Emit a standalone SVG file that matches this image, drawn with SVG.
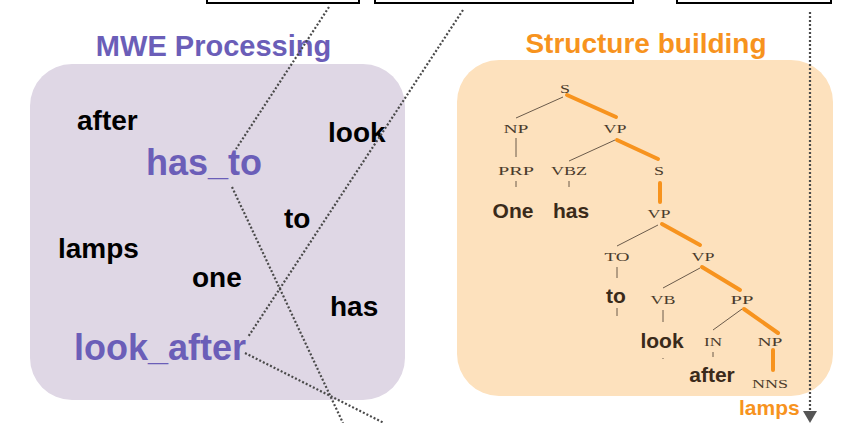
<svg xmlns="http://www.w3.org/2000/svg" width="863" height="423" viewBox="0 0 863 423">
<style>
.title{font-family:"Liberation Sans",Arial,sans-serif;font-weight:bold;font-size:29px}
.word{font-family:"Liberation Sans",Arial,sans-serif;font-weight:bold;font-size:28px;fill:#000}
.mwe{font-family:"Liberation Sans",Arial,sans-serif;font-weight:bold;font-size:36px;fill:#6b5eb8}
.lab{font-family:"Liberation Serif","Times New Roman",serif;font-size:13.5px;fill:#4a3b2c;text-anchor:middle}
.tw{font-family:"Liberation Sans",Arial,sans-serif;font-weight:bold;font-size:21px;fill:#3a2a1a;text-anchor:middle}
.thin{stroke:#6b5b4b;stroke-width:1;fill:none}
.hl{stroke:#f7931e;stroke-width:4;fill:none;stroke-linecap:round}
.dot{stroke:#4a4a4a;stroke-width:2.2;stroke-dasharray:2 2;fill:none}
.topbox{fill:#fff;stroke:#000;stroke-width:2}
</style>
<defs>
<marker id="arr" markerWidth="12" markerHeight="14" refX="0" refY="7" orient="auto" markerUnits="userSpaceOnUse" viewBox="0 0 12 14">
<polygon points="0,0 12,7 0,14" fill="#555"/>
</marker>
</defs>
<g id="top-boxes">
<rect class="topbox" x="207" y="-20" width="152" height="23"/>
<rect class="topbox" x="375" y="-20" width="258" height="23"/>
<rect class="topbox" x="677" y="-20" width="154" height="23"/>
</g>
<g id="mwe-panel">
<rect x="30" y="64" width="375" height="336" rx="42" fill="#dfd7e5"/>
<text class="title" x="213.5" y="56" text-anchor="middle" fill="#6b5eb8">MWE Processing</text>
</g>
<g id="structure-panel">
<rect x="457" y="60" width="376" height="336" rx="42" fill="#fde1bd"/>
<text class="title" x="646" y="53" text-anchor="middle" fill="#f7931e" style="font-size:28px">Structure building</text>
</g>
<g id="w-after"><text class="word" x="77" y="130">after</text></g>
<g id="w-look"><text class="word" x="328" y="142">look</text></g>
<g id="w-to"><text class="word" x="284" y="228">to</text></g>
<g id="w-lamps"><text class="word" x="58" y="258">lamps</text></g>
<g id="w-one"><text class="word" x="192" y="287">one</text></g>
<g id="w-has"><text class="word" x="330" y="316">has</text></g>
<g id="mwe-has_to"><text class="mwe" x="146" y="175">has_to</text></g>
<g id="mwe-look_after"><text class="mwe" x="74" y="360">look_after</text></g>
<g id="tree">
<g id="tree-edges">
<line class="thin" x1="563" y1="97" x2="516" y2="118"/>
<line class="thin" x1="516" y1="138" x2="516" y2="157"/>
<line class="thin" x1="615" y1="140" x2="569" y2="161"/>
<line class="thin" x1="516" y1="181" x2="516" y2="187"/>
<line class="thin" x1="569" y1="181" x2="569" y2="187"/>
<line class="thin" x1="658" y1="225" x2="617" y2="246"/>
<line class="thin" x1="617" y1="267" x2="617" y2="278"/>
<line class="thin" x1="617" y1="308" x2="617" y2="316"/>
<line class="thin" x1="700" y1="268" x2="663" y2="288"/>
<line class="thin" x1="663" y1="310" x2="663" y2="322"/>
<line class="thin" x1="663" y1="358" x2="663" y2="359"/>
<line class="thin" x1="742" y1="309" x2="713" y2="330"/>
<line class="thin" x1="713" y1="352" x2="713" y2="357"/>
<line class="hl" x1="567" y1="95" x2="616" y2="117"/>
<line class="hl" x1="617" y1="140" x2="658" y2="159"/>
<line class="hl" x1="660" y1="183" x2="660" y2="202"/>
<line class="hl" x1="662" y1="224" x2="700" y2="245"/>
<line class="hl" x1="702" y1="267" x2="740" y2="290"/>
<line class="hl" x1="744" y1="309" x2="778" y2="333"/>
<line class="hl" x1="773" y1="350" x2="773" y2="370"/>
</g>
<g id="tree-labels">
<text class="lab" x="565" y="93" textLength="10" lengthAdjust="spacingAndGlyphs">S</text>
<text class="lab" x="516" y="133" textLength="25" lengthAdjust="spacingAndGlyphs">NP</text>
<text class="lab" x="615" y="133" textLength="23" lengthAdjust="spacingAndGlyphs">VP</text>
<text class="lab" x="516" y="175" textLength="36" lengthAdjust="spacingAndGlyphs">PRP</text>
<text class="lab" x="569" y="175" textLength="36" lengthAdjust="spacingAndGlyphs">VBZ</text>
<text class="lab" x="659" y="175" textLength="10" lengthAdjust="spacingAndGlyphs">S</text>
<text class="lab" x="659" y="218" textLength="23" lengthAdjust="spacingAndGlyphs">VP</text>
<text class="lab" x="617" y="261" textLength="25" lengthAdjust="spacingAndGlyphs">TO</text>
<text class="lab" x="703" y="261" textLength="23" lengthAdjust="spacingAndGlyphs">VP</text>
<text class="lab" x="663" y="304" textLength="25" lengthAdjust="spacingAndGlyphs">VB</text>
<text class="lab" x="742" y="304" textLength="23" lengthAdjust="spacingAndGlyphs">PP</text>
<text class="lab" x="713" y="346" textLength="18" lengthAdjust="spacingAndGlyphs">IN</text>
<text class="lab" x="770" y="346" textLength="25" lengthAdjust="spacingAndGlyphs">NP</text>
<text class="lab" x="770" y="388" textLength="36" lengthAdjust="spacingAndGlyphs">NNS</text>
</g>
<g id="tree-words">
<text class="tw" x="513" y="218">One</text>
<text class="tw" x="571" y="218">has</text>
<text class="tw" x="616" y="303">to</text>
<text class="tw" x="662" y="348">look</text>
<text class="tw" x="712" y="382">after</text>
</g>
</g>
<g id="out-lamps"><text x="739" y="415" style="font-family:'Liberation Sans',Arial,sans-serif;font-weight:bold;font-size:21px" fill="#f7931e">lamps</text></g>
<g id="connectors">
<line class="dot" x1="329" y1="7" x2="236" y2="149"/>
<line class="dot" x1="463" y1="10" x2="248" y2="337"/>
<line class="dot" x1="232" y1="187" x2="343" y2="423"/>
<line class="dot" x1="245" y1="353" x2="384" y2="423"/>
<line class="dot" x1="810" y1="12" x2="810" y2="411" marker-end="url(#arr)"/>
</g>
</svg>
